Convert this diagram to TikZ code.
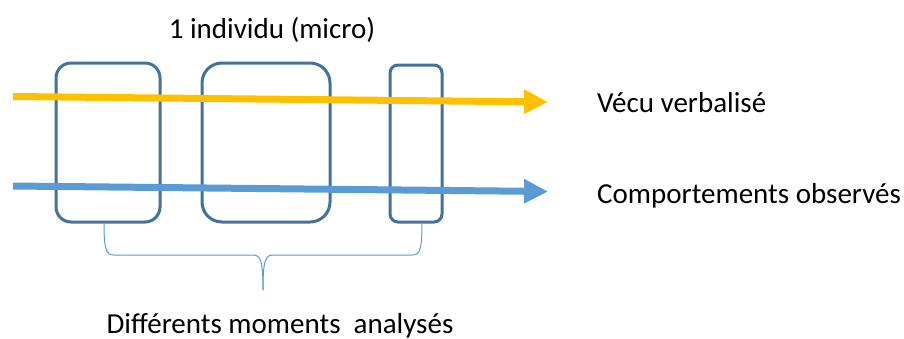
\documentclass[tikz,border=0pt]{standalone}
\usepackage{fontspec}
\setmainfont{Carlito}
\usetikzlibrary{arrows.meta}
\definecolor{boxline}{HTML}{41719C}
\definecolor{yel}{HTML}{FFC000}
\definecolor{blu}{HTML}{5B9BD5}
\begin{document}
\begin{tikzpicture}[x=1pt,y=-1pt,
  moment/.style={draw=boxline,line width=3pt,inner sep=0pt},
  flow/.style={line width=7pt,-{Triangle[length=24pt,width=23pt]}},
  lbl/.style={inner sep=0pt,font=\fontsize{29}{34}\selectfont},
  bracep/.style={draw=blu,line width=1pt}]
\useasboundingbox (0,0) rectangle (904,338);
\node[moment,rounded corners=15pt,minimum width=104pt,minimum height=159pt] (b1) at (108,142.5) {};
\node[moment,rounded corners=20pt,minimum width=128pt,minimum height=159pt] (b2) at (266,142.5) {};
\node[moment,rounded corners=8pt,minimum width=52pt,minimum height=157pt] (b3) at (416,143.5) {};
\coordinate (ys) at (13,96.5);
\coordinate (ye) at (548,102);
\coordinate (bs) at (13,186);
\coordinate (be) at (548,191.5);
\draw[flow,yel] (ys) -- (ye);
\draw[flow,blu] (bs) -- (be);
\node[lbl,anchor=base] (t1) at (272,38) {1 individu (micro)};
\node[lbl,anchor=base west] (t2) at (597,112) {Vécu verbalisé};
\node[lbl,anchor=base west] (t3) at (597,203) {Comportements observés};
\node[lbl,anchor=base] (t4) at (280,333) {Différents moments~ analysés};
\coordinate (brl) at (104,222);
\coordinate (brr) at (422,222);
\coordinate (brt) at (263,290);
\draw[bracep] (brl) .. controls (104,250) and (106,255) .. (114,255) -- (253,255) .. controls (261,255) and (263,262) .. (brt);
\draw[bracep] (brr) .. controls (422,250) and (420,255) .. (412,255) -- (273,255) .. controls (265,255) and (263,262) .. (brt);
\end{tikzpicture}
\end{document}
